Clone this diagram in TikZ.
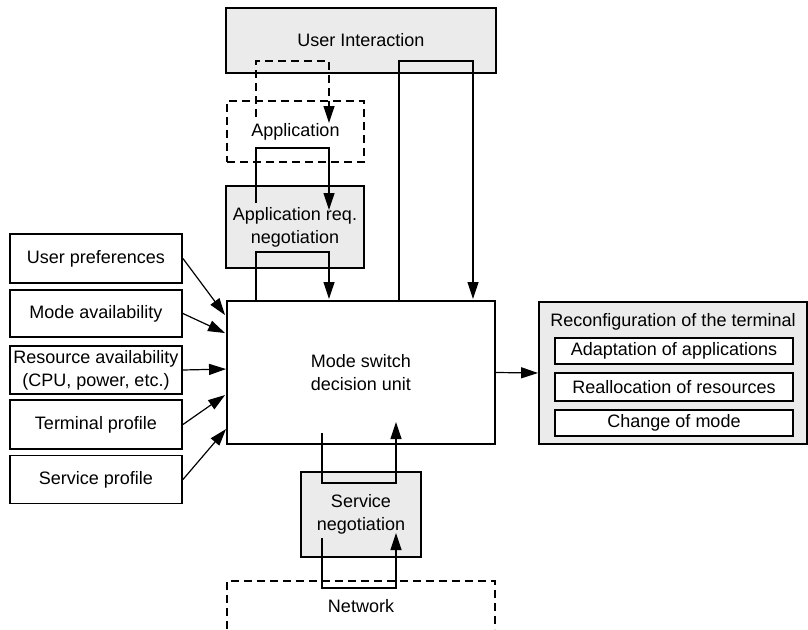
\documentclass[tikz,border=0pt]{standalone}
\usepackage{fontspec}
\setmainfont{Liberation Sans}
\usetikzlibrary{arrows.meta,calc}
\definecolor{boxgray}{HTML}{EBEBEB}
\begin{document}
\begin{tikzpicture}[x=1pt,y=-1pt,
  every node/.style={font=\fontsize{18}{23}\selectfont, inner sep=0pt, align=center},
  box/.style={draw, line width=1.9pt, rectangle},
  graybox/.style={box, fill=boxgray},
  dbox/.style={draw, line width=1.1pt, dash pattern=on 8pt off 5pt},
  conn/.style={line width=1.2pt},
  arr/.style={conn, -{Triangle[length=17pt,width=11pt]}},
  darr/.style={arr, dash pattern=on 8pt off 5pt}]
\useasboundingbox (0,0) rectangle (808,629);

% top column
\node[graybox, minimum width=270pt, minimum height=65pt] (ui) at (361,40.5) {User Interaction};
\node[dbox, minimum width=137pt, minimum height=61pt] (app) at (295.5,131.5) {\raisebox{-3pt}{Application}};
\node[graybox, minimum width=138pt, minimum height=82pt] (arq) at (295,227) {Application req.\\negotiation};
\node[box, fill=white, minimum width=268pt, minimum height=143pt] (main) at (361,372.5) {Mode switch\\decision unit};
\node[graybox, minimum width=120pt, minimum height=85pt] (sn) at (361,514.5) {Service\\negotiation};
\node (net) at (361,606) {Network};
\draw[dbox] (227,629) -- (227,581) -- (495,581) -- (495,629);

% left boxes
\node[box, minimum width=172pt, minimum height=49pt] (up) at (96,258.5) {User preferences};
\node[box, minimum width=172pt, minimum height=47pt] (ma) at (96,313.5) {Mode availability};
\node[box, minimum width=172pt, minimum height=48pt] (ra) at (96,370) {Resource availability\\(CPU, power, etc.)};
\node[box, minimum width=172pt, minimum height=49pt] (tp) at (96,424.5) {Terminal profile};
\node[box, minimum width=172pt, minimum height=48pt] (sp) at (96,479.5) {Service profile};

% reconfiguration
\node[graybox, minimum width=268pt, minimum height=142pt] (rc) at (673,373) {};
\node (rct) at (673,322) {Reconfiguration of the terminal};
\node[box, fill=white, minimum width=238pt, minimum height=26pt] (aa) at (674,351) {Adaptation of applications};
\node[box, fill=white, minimum width=238pt, minimum height=28pt] (rr) at (674,387) {Reallocation of resources};
\node[box, fill=white, minimum width=238pt, minimum height=26pt] (cm) at (674,423) {Change of mode};

% loops
\coordinate (l1a) at (256,117); \coordinate (l1b) at (329,123);
\draw[darr] (l1a) -- (256,61) -- (329,61) -- (l1b);
\coordinate (l2a) at (256,203); \coordinate (l2b) at (329,210);
\draw[arr] (l2a) -- (256,148) -- (329,148) -- (l2b);
\coordinate (l3a) at (256,301); \coordinate (l3b) at (329,299);
\draw[arr] (l3a) -- (256,252) -- (329,252) -- (l3b);
\coordinate (l4a) at (399,301); \coordinate (l4b) at (473,299);
\draw[arr] (l4a) -- (399,61) -- (473,61) -- (l4b);
\coordinate (l5a) at (322,433); \coordinate (l5b) at (396,422);
\draw[arr] (l5a) -- (322,483) -- (396,483) -- (l5b);
\coordinate (l6a) at (322,538); \coordinate (l6b) at (396,533);
\draw[arr] (l6a) -- (322,588) -- (396,588) -- (l6b);

% left arrows
\draw[arr] (up.east) -- ($(main.north west)+(-1,15)$);
\draw[arr] (ma.east) -- ($(main.north west)+(-1,33)$);
\draw[arr] (ra.east) -- ($(main.north west)+(0,69)$);
\draw[arr] (tp.east) -- ($(main.north west)+(-1,95)$);
\draw[arr] (sp.east) -- ($(main.north west)+(0,129)$);

\draw[arr] (main.east) -- (rc.west);
\end{tikzpicture}
\end{document}
